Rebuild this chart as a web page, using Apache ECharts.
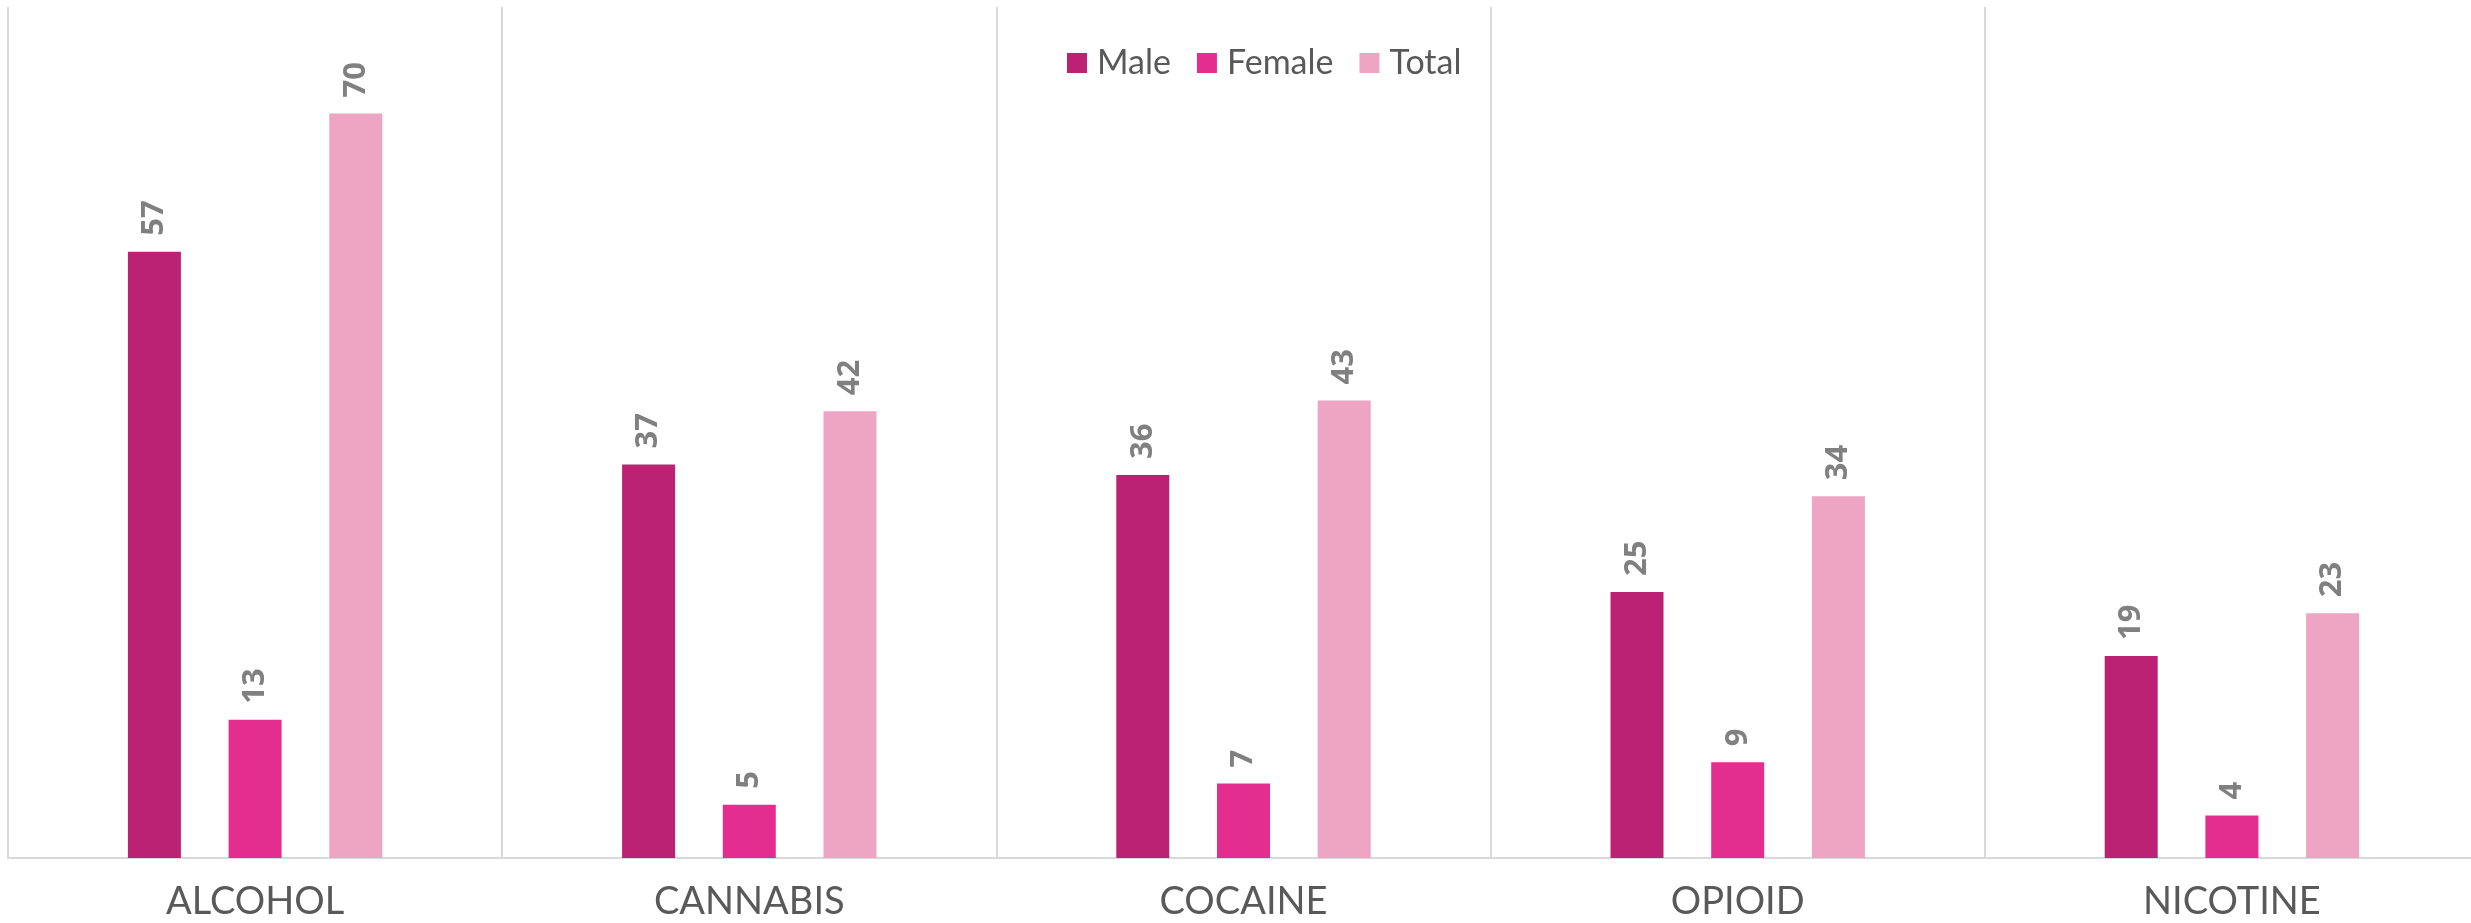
<!DOCTYPE html>
<html>
<head>
<meta charset="utf-8">
<script src="https://cdn.jsdelivr.net/npm/echarts@6/dist/echarts.min.js"></script>
<style>
html,body{margin:0;padding:0;background:#fff;}
#chart{width:2471px;height:923px;}
</style>
</head>
<body>
<div id="chart"></div>
<script>
const categories = ['ALCOHOL', 'CANNABIS', 'COCAINE', 'OPIOID', 'NICOTINE'];
const maleValues = [57, 37, 36, 25, 19];
const femaleValues = [13, 5, 7, 9, 4];
const totalValues = [70, 42, 43, 34, 23];
const seriesNames = ['Male', 'Female', 'Total'];
const seriesColors = ['#bb2273', '#e32e8f', '#eea4c3'];

const chart = echarts.init(document.getElementById('chart'), null, {renderer: 'canvas'});

const labelStyle = {
  show: true,
  position: 'top',
  rotate: 90,
  align: 'left',
  verticalAlign: 'middle',
  distance: 16,
  color: '#808080',
  fontFamily: 'Open Sans',
  fontWeight: 'bold',
  fontSize: 31
};

function makeSeries(name, data, color) {
  return {
    name: name,
    type: 'bar',
    data: data,
    barWidth: 53,
    barGap: '90%',
    itemStyle: {color: color},
    label: labelStyle
  };
}

chart.setOption({
  animation: false,
  backgroundColor: '#ffffff',
  legend: {
    data: seriesNames,
    left: 1062,
    top: 41,
    itemWidth: 20,
    itemHeight: 20,
    itemGap: 26,
    icon: 'rect',
    textStyle: {color: '#595959', fontFamily: 'Lato', fontSize: 34, padding: [0, 0, 0, 5]}
  },
  grid: {left: 8, top: 7, width: 2471, height: 851, containLabel: false, outerBoundsMode: 'none'},
  xAxis: {
    type: 'category',
    data: categories,
    axisLine: {show: true, lineStyle: {color: '#d9d9d9', width: 2}},
    axisTick: {show: false},
    splitLine: {show: true, interval: 0, lineStyle: {color: '#d9d9d9', width: 2}},
    axisLabel: {color: '#595959', fontFamily: 'Lato', fontSize: 38, margin: 25, interval: 0}
  },
  yAxis: {
    type: 'value',
    min: 0,
    max: 80,
    interval: 10,
    show: false,
    splitLine: {show: false}
  },
  series: [
    makeSeries(seriesNames[0], maleValues, seriesColors[0]),
    makeSeries(seriesNames[1], femaleValues, seriesColors[1]),
    makeSeries(seriesNames[2], totalValues, seriesColors[2])
  ]
});
</script>
</body>
</html>
